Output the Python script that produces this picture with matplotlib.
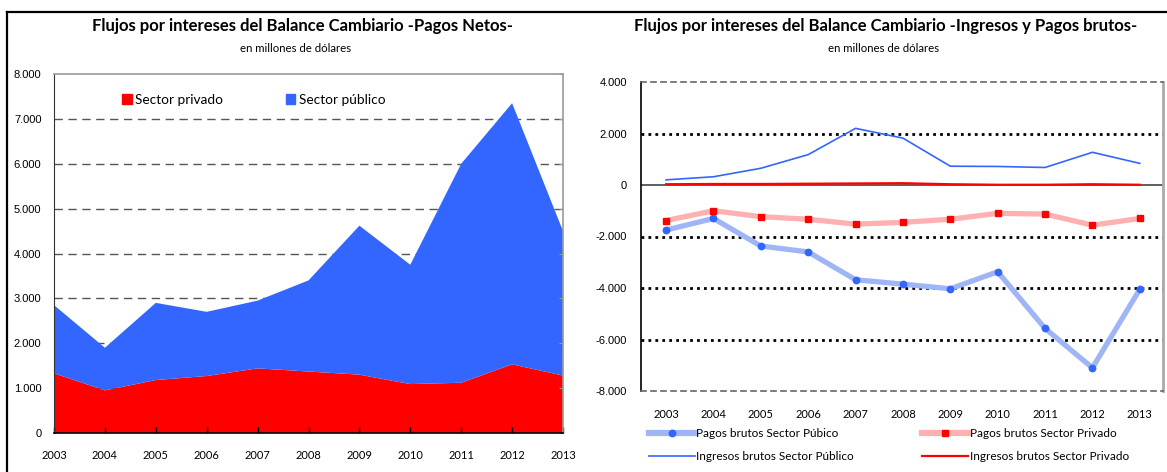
import numpy as np
import matplotlib
matplotlib.use("Agg")
import matplotlib.pyplot as plt
from matplotlib.patches import Patch
from matplotlib.lines import Line2D

# datos (millones de USD)
anios = [2003, 2004, 2005, 2006, 2007, 2008, 2009, 2010, 2011, 2012, 2013]
neto_privado = [1330, 950, 1180, 1270, 1440, 1370, 1300, 1090, 1120, 1530, 1280]
neto_publico = [1520, 950, 1720, 1430, 1510, 2030, 3320, 2660, 4880, 5820, 3220]

pagos_publico = [-1750, -1300, -2370, -2600, -3680, -3850, -4030, -3370, -5570, -7100, -4050]
pagos_privado = [-1380, -1000, -1230, -1330, -1520, -1450, -1330, -1100, -1130, -1560, -1300]
ingresos_publico = [200, 320, 650, 1180, 2200, 1820, 730, 720, 680, 1270, 840]
ingresos_privado = [30, 40, 40, 50, 60, 70, 30, 10, 10, 30, 10]

yticks_izq = [0, 1000, 2000, 3000, 4000, 5000, 6000, 7000, 8000]
yticks_der = [-8000, -6000, -4000, -2000, 0, 2000, 4000]

ROJO = "#ff0000"
AZUL = "#3366ff"
AZUL_CLARO = "#9fb5f5"
ROJO_CLARO = "#ffb0b0"
TXT = "Lato"
NUM = "Liberation Sans"


def miles(v):
    return f"{v:,.0f}".replace(",", ".")


W, H = 1167, 472
fig = plt.figure(figsize=(W / 100, H / 100), dpi=100)

# marco exterior
fig.add_artist(Line2D([7 / W, 7 / W], [0, 1 - 12 / H], color="black", lw=1.6))
fig.add_artist(Line2D([7 / W, 1], [1 - 12 / H, 1 - 12 / H], color="black", lw=1.6))

# ---------------- panel izquierdo ----------------
ax1 = fig.add_axes([54 / W, 1 - 433 / H, (563 - 54) / W, (433 - 74) / H])
x = np.array(anios)
ax1.stackplot(x, neto_privado, neto_publico, colors=[ROJO, AZUL], lw=0)
ax1.set_xlim(2003, 2013)
ax1.set_ylim(0, 8000)
ax1.set_xticks(anios)
ax1.set_xticklabels([str(a) for a in anios], family=TXT, fontsize=8)
ax1.set_yticks(yticks_izq)
ax1.set_yticklabels([miles(v) for v in yticks_izq], family=NUM, fontsize=8)
for v in yticks_izq[1:-1]:
    ax1.axhline(v, color="#555555", lw=1, dashes=(6, 4), zorder=0)
ax1.tick_params(axis="x", direction="in", length=4, width=1, pad=12, color="black")
ax1.tick_params(axis="y", left=False, right=True, direction="in", length=3,
                color="#999999", pad=9)
for s in ["top", "right"]:
    ax1.spines[s].set_color("#999999")
    ax1.spines[s].set_linewidth(1.2)
ax1.spines["left"].set_color("#333333")
ax1.spines["bottom"].set_color("black")
ax1.spines["bottom"].set_linewidth(1.2)
ax1.legend(handles=[Patch(color=ROJO, label="Sector privado"),
                    Patch(color=AZUL, label="Sector público")],
           ncol=2, loc="center left", bbox_to_anchor=(0.11, 0.928), frameon=False,
           handlelength=0.7, handleheight=0.7, handletextpad=0.25,
           columnspacing=4.6, prop={"family": TXT, "size": 9.8})

fig.text(302 / W, 1 - 26 / H, "Flujos por intereses del Balance Cambiario -Pagos Netos-",
         ha="center", va="center", family=TXT, fontsize=12, weight="bold")
fig.text(296 / W, 1 - 48 / H, "en millones de dólares",
         ha="center", va="center", family=TXT, fontsize=8.2)

# ---------------- panel derecho ----------------
ax2 = fig.add_axes([641 / W, 1 - 391 / H, (1163 - 641) / W, (391 - 82) / H])
ax2.set_xlim(2002.47, 2013.49)
ax2.set_ylim(-8000, 4000)
for v in [-6000, -4000, -2000, 2000]:
    ax2.axhline(v, color="black", lw=2, dashes=(1, 1.5), zorder=0)
ax2.axhline(0, color="#444444", lw=1.2, zorder=1)

ax2.plot(x, pagos_publico, color=AZUL_CLARO, lw=3.8, zorder=3)
ax2.plot(x, pagos_publico, ls="none", marker="o", ms=4.6, color=AZUL, zorder=4)
ax2.plot(x, pagos_privado, color=ROJO_CLARO, lw=3.8, zorder=3)
ax2.plot(x, pagos_privado, ls="none", marker="s", ms=4.8, color=ROJO, zorder=4)
l3, = ax2.plot(x, ingresos_publico, color=AZUL, lw=1.2, zorder=3)
l4, = ax2.plot(x, ingresos_privado, color=ROJO, lw=1.6, zorder=3)

ax2.set_xticks(anios)
ax2.set_xticklabels([str(a) for a in anios], family=TXT, fontsize=8)
ax2.set_yticks(yticks_der)
ax2.set_yticklabels([miles(v) for v in yticks_der], family=NUM, fontsize=8)
ax2.tick_params(axis="x", length=0, pad=13)
ax2.tick_params(axis="y", length=0, pad=10)
for s in ["top", "bottom"]:
    ax2.spines[s].set_color("#666666")
    ax2.spines[s].set_linestyle((0, (3, 3)))
    ax2.spines[s].set_linewidth(1.2)
ax2.spines["right"].set_color("#aaaaaa")
ax2.spines["right"].set_linewidth(2)
ax2.spines["left"].set_color("black")
ax2.spines["left"].set_linewidth(1.2)

h1 = (Line2D([], [], color=AZUL_CLARO, lw=4.5), Line2D([], [], ls="none", marker="o", ms=4.6, color=AZUL))
h2 = (Line2D([], [], color=ROJO_CLARO, lw=4.5), Line2D([], [], ls="none", marker="s", ms=4.8, color=ROJO))
ax2.legend(handles=[h1, l3, h2, l4],
           labels=["Pagos brutos Sector Púbico", "Ingresos brutos Sector Público",
                   "Pagos brutos Sector Privado", "Ingresos brutos Sector Privado"],
           ncol=2, loc="upper left", bbox_to_anchor=(8 / 522, -0.12), frameon=False,
           handlelength=3.9, handletextpad=0.1, columnspacing=5.8, labelspacing=1.05,
           borderaxespad=0, borderpad=0, prop={"family": TXT, "size": 8.5})

fig.text(886 / W, 1 - 26 / H, "Flujos por intereses del Balance Cambiario -Ingresos y Pagos brutos-",
         ha="center", va="center", family=TXT, fontsize=12, weight="bold")
fig.text(884 / W, 1 - 48 / H, "en millones de dólares",
         ha="center", va="center", family=TXT, fontsize=8.2)

fig.savefig("out.png", dpi=100)
